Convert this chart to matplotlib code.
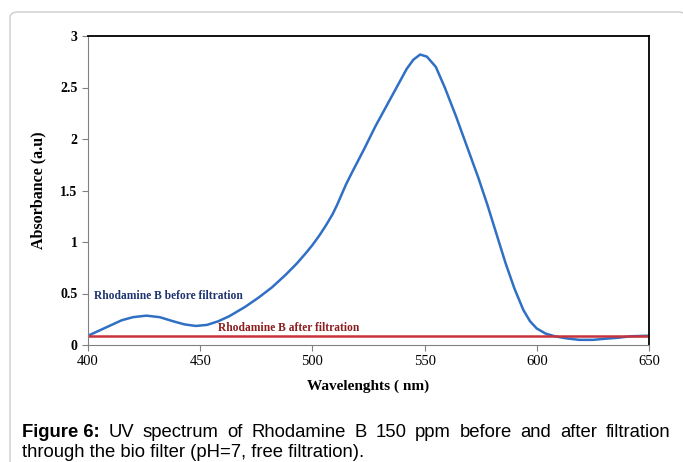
import matplotlib
matplotlib.use("Agg")
import matplotlib.pyplot as plt
from matplotlib.patches import FancyBboxPatch

# 흡광도 스펙트럼
wavelength = [400, 405, 410, 415, 420, 426, 432, 438, 443, 448, 453, 458, 463,
              470, 476, 482, 488, 493, 497, 500, 503, 506, 509, 511, 513, 515,
              518, 523, 528, 532, 536, 539, 542, 545, 548, 551, 555, 559, 564,
              569, 574, 578, 582, 586, 590, 594, 597, 600, 604, 608, 613, 619,
              625, 630, 636, 642, 650]
before = [0.09, 0.14, 0.19, 0.24, 0.27, 0.285, 0.27, 0.23, 0.20, 0.185, 0.195,
          0.23, 0.28, 0.37, 0.46, 0.56, 0.68, 0.79, 0.89, 0.97, 1.06, 1.16,
          1.27, 1.36, 1.46, 1.56, 1.69, 1.90, 2.12, 2.28, 2.44, 2.56, 2.68,
          2.77, 2.82, 2.80, 2.70, 2.50, 2.22, 1.92, 1.62, 1.36, 1.08, 0.80,
          0.55, 0.34, 0.23, 0.16, 0.11, 0.085, 0.065, 0.05, 0.05, 0.06, 0.07,
          0.085, 0.09]
after_wl = [400, 650]
after = [0.09, 0.09]

xticks = [400, 450, 500, 550, 600, 650]
yticks = [0, 0.5, 1, 1.5, 2, 2.5, 3]
ytick_labels = ["0", "0.5", "1", "1.5", "2", "2.5", "3"]

fig = plt.figure(figsize=(6.83, 4.62), dpi=100)

# 바깥 패널 테두리
panel = FancyBboxPatch((10 / 683, 1 - 1.2), 0.99, 1.2 - 12 / 462,
                       boxstyle="round,pad=0,rounding_size=0.012",
                       transform=fig.transFigure, fc="white", ec="#cccccc",
                       lw=1, zorder=-1)
fig.patches.append(panel)

ax = fig.add_axes([88 / 683, 1 - 345 / 462, (649 - 88) / 683, (345 - 36) / 462])
ax.set_zorder(2)
ax.plot(wavelength, before, color="#2f6fc4", lw=1.8)
ax.plot(after_wl, after, color="#c8323a", lw=1.8)

ax.set_xlim(400, 650)
ax.set_ylim(0, 3)
ax.set_xticks(xticks)
ax.set_yticks(yticks)
ax.set_yticklabels(ytick_labels)

for s in ["left", "bottom"]:
    ax.spines[s].set_color("#808080")
for s in ["top", "right"]:
    ax.spines[s].set_color("black")
    ax.spines[s].set_linewidth(1.3)

ax.tick_params(direction="out", length=4, color="#808080")
for lab in ax.get_yticklabels():
    lab.set_fontfamily("Liberation Serif")
    lab.set_fontweight("bold")
    lab.set_fontsize(10)
for lab in ax.get_xticklabels():
    lab.set_fontfamily("Liberation Serif")
    lab.set_fontsize(10.5)

ax.set_xlabel("Wavelenghts ( nm)", family="Liberation Serif", weight="bold",
              fontsize=11, labelpad=8)
ax.set_ylabel("Absorbance (a.u)", family="Liberation Serif", weight="bold",
              fontsize=11.5, labelpad=10)

ax.text(402.5, 0.48, "Rhodamine B before filtration", color="#1f3470",
        family="Liberation Serif", weight="bold", fontsize=8.3, va="center")
ax.text(458, 0.165, "Rhodamine B after filtration", color="#8b1e1e",
        family="Liberation Serif", weight="bold", fontsize=8.3, va="center")

# 캡션 (첫 줄은 양쪽 정렬)
cap_font = "Liberation Sans"
fig.canvas.draw()
r = fig.canvas.get_renderer()
words = [("Figure 6:", "bold"), ("UV", "normal"), ("spectrum", "normal"),
         ("of", "normal"), ("Rhodamine", "normal"), ("B", "normal"), ("150", "normal"),
         ("ppm", "normal"), ("before", "normal"), ("and", "normal"), ("after", "normal"),
         ("filtration", "normal")]
x0, x1 = 22 / 683, 670 / 683
y1 = 1 - 437 / 462
texts = [fig.text(0, y1, w, fontsize=13.3, weight=wt, family=cap_font,
                  va="baseline") for w, wt in words]
widths = [t.get_window_extent(r).width / 683 for t in texts]
gap = (x1 - x0 - sum(widths)) / (len(words) - 1)
x = x0
for t, w in zip(texts, widths):
    t.set_x(x)
    x += w + gap
fig.text(x0, 1 - 457 / 462, "through the bio filter (pH=7, free filtration).",
         fontsize=13.3, family=cap_font, va="baseline")

fig.savefig("out.png", dpi=100)
